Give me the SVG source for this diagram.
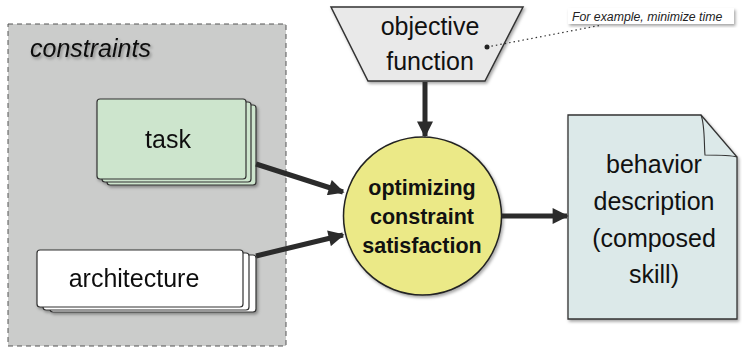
<svg xmlns="http://www.w3.org/2000/svg" width="742" height="349" viewBox="0 0 742 349">
<defs>
<filter id="sh" x="-10%" y="-10%" width="130%" height="130%">
<feDropShadow dx="1.5" dy="2" stdDeviation="1.5" flood-color="#000" flood-opacity="0.35"/>
</filter>
<marker id="ah" viewBox="0 0 10 10" refX="9" refY="5" markerWidth="3.6" markerHeight="3.2" orient="auto" markerUnits="strokeWidth">
<path d="M0,0 L10,5 L0,10 z" fill="#2b2b2b"/>
</marker>
<style>
.t{font-family:"Liberation Sans",Arial,sans-serif;font-size:25px;fill:#111;text-anchor:middle}
.b{font-family:"Liberation Sans",Arial,sans-serif;font-size:21.5px;font-weight:bold;fill:#111;text-anchor:middle}
.card{stroke:#333;stroke-width:1.2}
.con{stroke:#2b2b2b;stroke-width:5;fill:none;marker-end:url(#ah)}
</style>
</defs>
<rect width="742" height="349" fill="#fff"/>
<g id="constraints">
<rect x="8" y="24" width="278" height="322" fill="#cbcccb" stroke="#555" stroke-width="1" stroke-dasharray="5,4"/>
<text x="30" y="57" font-family="'Liberation Sans',Arial,sans-serif" font-size="25" font-style="italic" fill="#111" filter="url(#sh)">constraints</text>
</g>
<g id="task" filter="url(#sh)">
<rect x="107" y="105" width="149" height="80" rx="3" fill="#cde5cd" class="card"/>
<rect x="102" y="102" width="149" height="80" rx="3" fill="#cde5cd" class="card"/>
<rect x="97" y="99" width="149" height="80" rx="3" fill="#cde5cd" class="card"/>
<text class="t" x="168" y="148">task</text>
</g>
<g id="architecture" filter="url(#sh)">
<rect x="50" y="255" width="206" height="57" rx="3" fill="#fff" class="card"/>
<rect x="43" y="253" width="206" height="57" rx="3" fill="#fff" class="card"/>
<rect x="37" y="250" width="206" height="57" rx="3" fill="#fff" class="card"/>
<text class="t" x="134" y="287">architecture</text>
</g>
<g id="objective">
<polygon points="331,7 523,7 485,81 368,81" fill="#e9e9e9" stroke="#333" stroke-width="1.5" filter="url(#sh)"/>
<text class="t" x="430" y="35">objective</text>
<text class="t" x="430" y="70">function</text>
</g>
<g id="note">
<rect x="568" y="8" width="166" height="16" fill="#fff" filter="url(#sh)"/>
<text x="572" y="21" font-family="'Liberation Sans',Arial,sans-serif" font-size="12.3" font-style="italic" fill="#222">For example, minimize time</text>
<line x1="487" y1="47" x2="602" y2="25" stroke="#333" stroke-width="1.2" stroke-dasharray="1.5,3"/>
<circle cx="487" cy="47" r="2.5" fill="#222"/>
</g>
<g id="optimizer">
<circle cx="422.5" cy="216" r="79" fill="#ebe987" stroke="#222" stroke-width="1.5" filter="url(#sh)"/>
<text class="b" x="422" y="195">optimizing</text>
<text class="b" x="422" y="224">constraint</text>
<text class="b" x="422" y="253">satisfaction</text>
</g>
<g id="behavior">
<path d="M568,115 L701,115 L737,157 L737,319 L568,319 Z" fill="#dce9e9" stroke="#333" stroke-width="1.3" filter="url(#sh)"/>
<path d="M701,115 C705,125 704,145 705,155 C715,155 730,155 737,157" fill="none" stroke="#333" stroke-width="1.1"/>
<text class="t" x="654" y="173">behavior</text>
<text class="t" x="654" y="210">description</text>
<text class="t" x="654" y="247">(composed</text>
<text class="t" x="654" y="283">skill)</text>
</g>
<g id="connectors">
<line class="con" x1="425" y1="82" x2="425" y2="136"/>
<line class="con" x1="256" y1="164" x2="343" y2="192"/>
<line class="con" x1="256" y1="256" x2="343" y2="235"/>
<line class="con" x1="502" y1="216" x2="567" y2="216"/>
</g>
</svg>
